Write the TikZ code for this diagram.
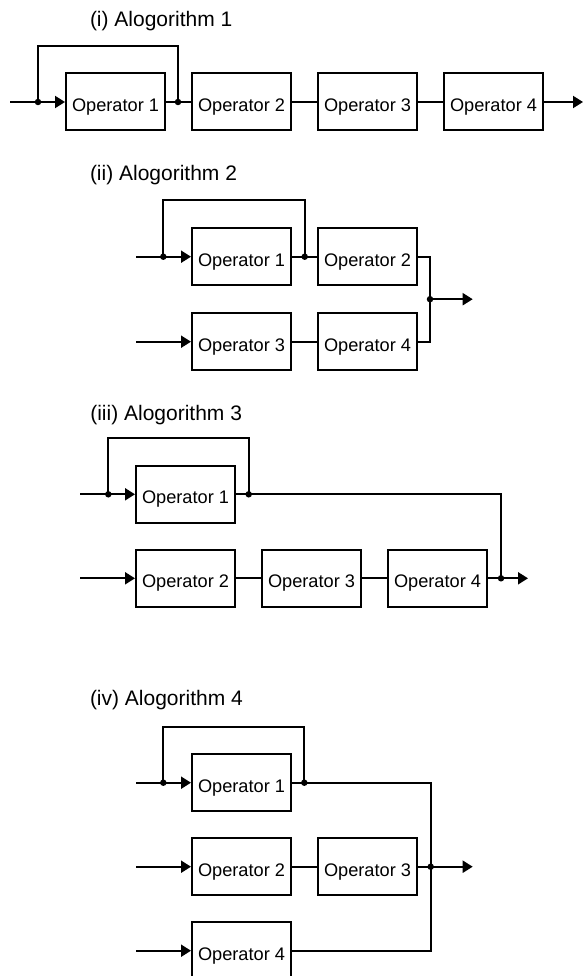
\documentclass[tikz,border=0pt]{standalone}
\usepackage{fontspec}
\setmainfont{Liberation Sans}
\usetikzlibrary{arrows.meta}
\begin{document}
\begin{tikzpicture}[x=1pt,y=-1pt, line width=2pt,
  opbox/.style={draw, line width=2pt, minimum width=99pt, minimum height=57pt, inner sep=0pt,
    text height=19pt, text depth=0pt, font=\fontsize{18.2}{20}\selectfont},
  ttl/.style={anchor=base west, inner sep=0pt, font=\fontsize{21}{24}\selectfont},
  dotc/.style={circle, fill, draw=none, inner sep=0pt, minimum size=6.5pt},
  arr/.style={-{Triangle[length=10pt,width=12pt]}},
]
\useasboundingbox (0,0) rectangle (585,976);

% ---------------- (i) ----------------
\node[ttl] (t1) at (89,27) {(i) Alogorithm 1};
\node[opbox] (a1) at (115.5,102) {Operator 1};
\node[opbox] (a2) at (241.5,102) {Operator 2};
\node[opbox] (a3) at (367.5,102) {Operator 3};
\node[opbox] (a4) at (493.5,102) {Operator 4};
\coordinate (ain) at (10,102);
\coordinate (aout) at (583,102);
\coordinate (atop) at (100,46);
\node[dotc] (ad1) at (38,102) {};
\node[dotc] (ad2) at (178,102) {};
\draw[arr] (ain) -- (a1.west);
\draw (a1.east) -- (a2.west);
\draw (a2.east) -- (a3.west);
\draw (a3.east) -- (a4.west);
\draw[arr] (a4.east) -- (aout);
\draw (ad1.center) |- (atop) -| (ad2.center);

% ---------------- (ii) ----------------
\node[ttl] (t2) at (89,180.5) {(ii) Alogorithm 2};
\node[opbox] (b1) at (241.5,256.7) {Operator 1};
\node[opbox] (b2) at (367.5,256.7) {Operator 2};
\node[opbox] (b3) at (241.5,341.7) {Operator 3};
\node[opbox] (b4) at (367.5,341.7) {Operator 4};
\coordinate (bin1) at (136,256.7);
\coordinate (bin2) at (136,341.7);
\coordinate (btop) at (230,200);
\node[dotc] (bd1) at (163.3,256.7) {};
\node[dotc] (bd2) at (304.7,256.7) {};
\node[dotc] (bj) at (430,299.2) {};
\coordinate (bout) at (472.7,299.2);
\draw[arr] (bin1) -- (b1.west);
\draw[arr] (bin2) -- (b3.west);
\draw (b1.east) -- (b2.west);
\draw (b3.east) -- (b4.west);
\draw (bd1.center) |- (btop) -| (bd2.center);
\draw (b2.east) -| (bj.center);
\draw (b4.east) -| (bj.center);
\draw[arr] (bj.center) -- (bout);

% ---------------- (iii) ----------------
\node[ttl] (t3) at (89.3,420) {(iii) Alogorithm 3};
\node[opbox] (c1) at (185.5,494.3) {Operator 1};
\node[opbox] (c2) at (185.5,578.3) {Operator 2};
\node[opbox] (c3) at (311.5,578.3) {Operator 3};
\node[opbox] (c4) at (437.5,578.3) {Operator 4};
\coordinate (cin1) at (80,494.3);
\coordinate (cin2) at (80,578.3);
\coordinate (ctop) at (180,438.3);
\node[dotc] (cd1) at (108.3,494.3) {};
\node[dotc] (cd2) at (248.7,494.3) {};
\node[dotc] (cj) at (501,578.3) {};
\coordinate (cout) at (528,578.3);
\draw[arr] (cin1) -- (c1.west);
\draw[arr] (cin2) -- (c2.west);
\draw (c2.east) -- (c3.west);
\draw (c3.east) -- (c4.west);
\draw (cd1.center) |- (ctop) -| (cd2.center);
\draw (c1.east) -| (cj.center);
\draw (c4.east) -- (cj.center);
\draw[arr] (cj.center) -- (cout);

% ---------------- (iv) ----------------
\node[ttl] (t4) at (89,705.7) {(iv) Alogorithm 4};
\node[opbox] (d1) at (241.5,782.7) {Operator 1};
\node[opbox] (d2) at (241.5,866.7) {Operator 2};
\node[opbox] (d3) at (367.5,866.7) {Operator 3};
\node[opbox] (d4) at (241.5,950.7) {Operator 4};
\coordinate (din1) at (136,782.7);
\coordinate (din2) at (136,866.7);
\coordinate (din3) at (136,950.7);
\coordinate (dtop) at (230,726.7);
\node[dotc] (dd1) at (163.3,782.7) {};
\node[dotc] (dd2) at (304.3,782.7) {};
\node[dotc] (dj) at (430.7,866.7) {};
\coordinate (dout) at (472.7,866.7);
\draw[arr] (din1) -- (d1.west);
\draw[arr] (din2) -- (d2.west);
\draw[arr] (din3) -- (d4.west);
\draw (d2.east) -- (d3.west);
\draw (dd1.center) |- (dtop) -| (dd2.center);
\draw (d1.east) -| (dj.center);
\draw (d4.east) -| (dj.center);
\draw (d3.east) -- (dj.center);
\draw[arr] (dj.center) -- (dout);
\end{tikzpicture}
\end{document}
